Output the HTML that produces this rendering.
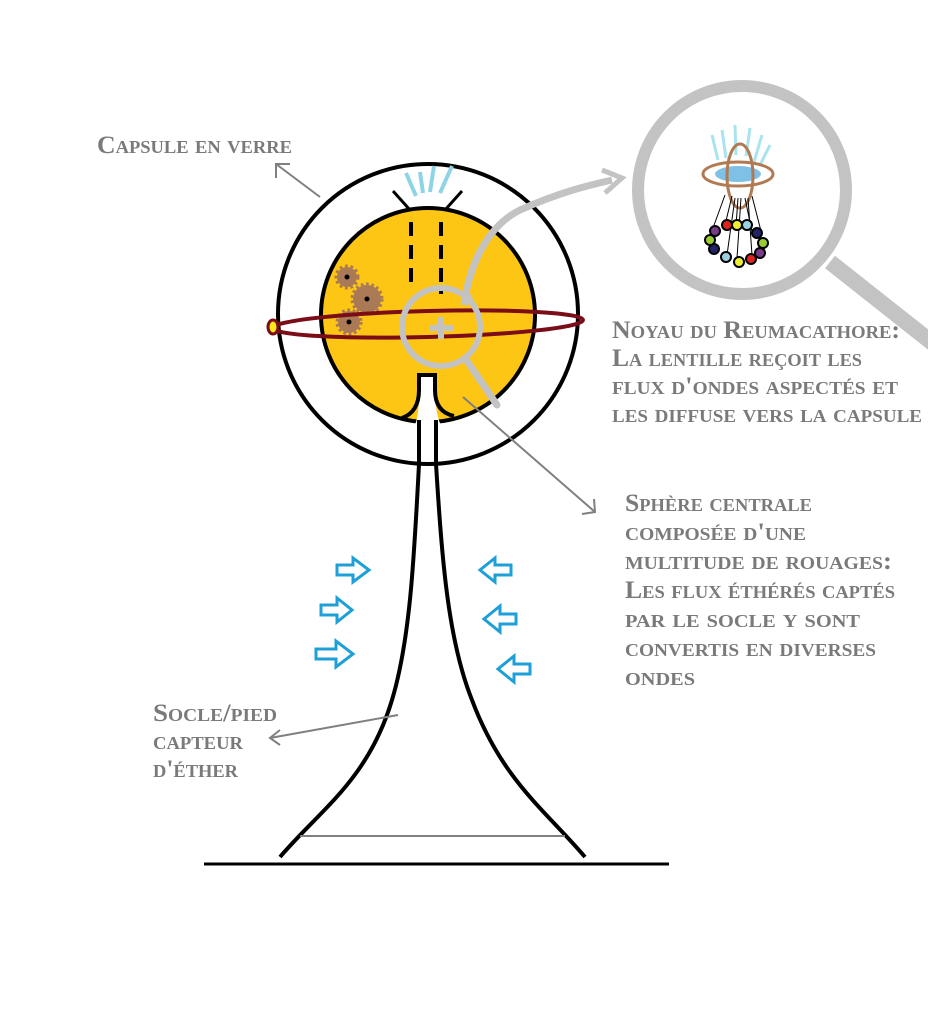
<!DOCTYPE html>
<html><head><meta charset="utf-8"><style>html,body{margin:0;padding:0;background:#fff}svg{display:block}
text{font-family:"Liberation Serif",serif;font-variant:small-caps;font-weight:bold;font-size:25px;fill:#7a7a7a}</style></head>
<body>
<svg width="928" height="1026" viewBox="0 0 928 1026" xmlns="http://www.w3.org/2000/svg">
<circle cx="742" cy="190" r="104" fill="none" stroke="#c3c3c3" stroke-width="12"/>
<line x1="830" y1="262" x2="935" y2="345" stroke="#c3c3c3" stroke-width="16"/>
<g stroke="#a8e4ee" stroke-width="3">
<line x1="712" y1="135" x2="718" y2="160"/><line x1="722" y1="130" x2="726" y2="158"/><line x1="735" y1="125" x2="736" y2="155"/>
<line x1="750" y1="128" x2="746" y2="156"/><line x1="762" y1="135" x2="754" y2="162"/><line x1="770" y1="145" x2="760" y2="165"/>
</g>
<ellipse cx="738" cy="174" rx="23" ry="8" fill="#7ec0e6"/>
<ellipse cx="738" cy="174" rx="35" ry="12" fill="none" stroke="#b07a52" stroke-width="3"/>
<ellipse cx="740" cy="176" rx="13" ry="32" fill="none" stroke="#b07a52" stroke-width="3"/>
<g stroke="#000" stroke-width="1">
<line x1="725" y1="195" x2="713" y2="228"/><line x1="732" y1="196" x2="725" y2="225"/><line x1="738" y1="198" x2="736" y2="226"/><line x1="745" y1="198" x2="752" y2="232"/><line x1="752" y1="196" x2="762" y2="235"/><line x1="735" y1="198" x2="727" y2="255"/><line x1="741" y1="198" x2="737" y2="258"/><line x1="748" y1="198" x2="752" y2="255"/></g>
<g stroke="#000" stroke-width="2">
<circle cx="715" cy="231" r="5" fill="#7a3a8a"/><circle cx="727" cy="225" r="5" fill="#d22"/><circle cx="737" cy="225" r="5" fill="#ee3"/><circle cx="747" cy="225" r="5" fill="#9cd0e0"/>
<circle cx="757" cy="233" r="5" fill="#226"/><circle cx="763" cy="243" r="5" fill="#9c3"/><circle cx="760" cy="253" r="5" fill="#7a3a8a"/><circle cx="751" cy="259" r="5" fill="#d22"/>
<circle cx="739" cy="262" r="5" fill="#ee3"/><circle cx="726" cy="257" r="5" fill="#9cd0e0"/><circle cx="714" cy="249" r="5" fill="#226"/><circle cx="710" cy="240" r="5" fill="#9c3"/></g>
<circle cx="428" cy="314" r="150" fill="#fff" stroke="#000" stroke-width="4"/>
<line x1="320" y1="197" x2="276" y2="164" stroke="#808080" stroke-width="2"/>
<polyline points="276,178 276,164 290,164" fill="none" stroke="#808080" stroke-width="2"/>
<circle cx="428" cy="315" r="107" fill="#fdc615" stroke="#000" stroke-width="4"/>
<path d="M419,420 L419,375 L435,375 L435,420 Z" fill="#fff"/>
<path d="M405,440 C420,425 419,410 419,375 L435,375 C435,410 436,425 452,440 Z" fill="#fff"/>
<path d="M402,418 Q419,412 419,390 L419,375 L435,375 L435,390 Q435,412 454,416" fill="none" stroke="#000" stroke-width="4"/>
<path d="M419,420 L419,464" stroke="#000" stroke-width="4" fill="none"/>
<path d="M436,420 L436,464" stroke="#000" stroke-width="4" fill="none"/>
<path d="M419,464 C414,560 410,640 392,700 C368,780 320,810 280,857" fill="none" stroke="#000" stroke-width="4"/>
<path d="M436,464 C442,560 448,640 472,700 C502,780 545,810 585,857" fill="none" stroke="#000" stroke-width="4"/>
<line x1="300" y1="836" x2="565" y2="836" stroke="#808080" stroke-width="2"/>
<line x1="204" y1="864" x2="669" y2="864" stroke="#000" stroke-width="3"/>
<line x1="393" y1="191" x2="410" y2="210" stroke="#000" stroke-width="3"/>
<line x1="462" y1="191" x2="445" y2="210" stroke="#000" stroke-width="3"/>
<g stroke="#8fd4e6" stroke-width="4"><line x1="406" y1="173" x2="416" y2="196"/><line x1="420" y1="172" x2="423" y2="193"/><line x1="434" y1="166" x2="430" y2="192"/><line x1="452" y1="166" x2="440" y2="193"/></g>
<g stroke="#000" stroke-width="4" stroke-dasharray="14,9"><line x1="411" y1="222" x2="411" y2="290"/><line x1="441" y1="222" x2="441" y2="294"/></g>
<g fill="#a97a55" stroke="#a97a55" stroke-width="5" stroke-dasharray="2.5,2.5">
<circle cx="347" cy="277" r="10"/><circle cx="367" cy="299" r="14"/><circle cx="349" cy="322" r="11"/></g>
<g fill="#000"><circle cx="347" cy="277" r="2.5"/><circle cx="367" cy="299" r="2.5"/><circle cx="349" cy="322" r="2.5"/></g>
<ellipse cx="428" cy="324" rx="155" ry="13" fill="none" stroke="#7b0d18" stroke-width="4" transform="rotate(-1.5 428 324)"/>
<ellipse cx="273" cy="327" rx="5" ry="7" fill="#ffe81a" stroke="#7b0d18" stroke-width="3"/>
<circle cx="441" cy="327" r="39" fill="none" stroke="#c3c3c3" stroke-width="6"/>
<g stroke="#c3c3c3" stroke-width="6"><line x1="430" y1="328" x2="453" y2="328"/><line x1="441" y1="317" x2="441" y2="339"/></g>
<line x1="465" y1="358" x2="497" y2="405" stroke="#c3c3c3" stroke-width="7" stroke-linecap="round"/>
<path d="M464,305 C470,260 490,225 520,210 C560,192 590,185 612,180" fill="none" stroke="#c3c3c3" stroke-width="7"/>
<path d="M472,305 l-4,-10" stroke="#c3c3c3" stroke-width="6"/>
<polyline points="602,170 622,178 605,193" fill="none" stroke="#c3c3c3" stroke-width="5"/>
<line x1="463" y1="397" x2="595" y2="512" stroke="#808080" stroke-width="2"/>
<polyline points="582,514 595,512 594,499" fill="none" stroke="#808080" stroke-width="2"/>
<line x1="398" y1="715" x2="270" y2="738" stroke="#808080" stroke-width="2"/>
<polyline points="280,730 270,738 280,745" fill="none" stroke="#808080" stroke-width="2"/>
<g fill="none" stroke="#1e9fd8" stroke-width="3">
<path d="M337,565 h16 v-7 l16,12 l-16,12 v-7 h-16 z"/>
<path d="M321,605 h16 v-7 l15,12 l-15,12 v-7 h-16 z"/>
<path d="M316,649 h20 v-8 l17,13 l-17,13 v-8 h-20 z"/>
<path d="M511,565 h-16 v-7 l-15,12 l15,12 v-7 h16 z"/>
<path d="M516,614 h-16 v-8 l-16,13 l16,13 v-8 h16 z"/>
<path d="M530,664 h-16 v-8 l-16,13 l16,13 v-8 h16 z"/>
</g>
<text x="97" y="153" textLength="195" lengthAdjust="spacingAndGlyphs">Capsule en verre</text>
<text x="612" y="338" textLength="288" lengthAdjust="spacingAndGlyphs">Noyau du Reumacathore:</text>
<text x="612" y="366" textLength="250" lengthAdjust="spacingAndGlyphs">La lentille reçoit les</text>
<text x="612" y="394" textLength="286" lengthAdjust="spacingAndGlyphs">flux d'ondes aspectés et</text>
<text x="612" y="422" textLength="310" lengthAdjust="spacingAndGlyphs">les diffuse vers la capsule</text>
<text x="625" y="511" textLength="187" lengthAdjust="spacingAndGlyphs">Sphère centrale</text>
<text x="625" y="540" textLength="181" lengthAdjust="spacingAndGlyphs">composée d'une</text>
<text x="625" y="569" textLength="267" lengthAdjust="spacingAndGlyphs">multitude de rouages:</text>
<text x="625" y="598" textLength="270" lengthAdjust="spacingAndGlyphs">Les flux éthérés captés</text>
<text x="625" y="627" textLength="235" lengthAdjust="spacingAndGlyphs">par le socle y sont</text>
<text x="625" y="656" textLength="251" lengthAdjust="spacingAndGlyphs">convertis en diverses</text>
<text x="625" y="685" textLength="70" lengthAdjust="spacingAndGlyphs">ondes</text>
<text x="153" y="721" textLength="124" lengthAdjust="spacingAndGlyphs">Socle/pied</text>
<text x="153" y="749" textLength="90" lengthAdjust="spacingAndGlyphs">capteur</text>
<text x="153" y="777" textLength="85" lengthAdjust="spacingAndGlyphs">d'éther</text>
</svg>
</body></html>
